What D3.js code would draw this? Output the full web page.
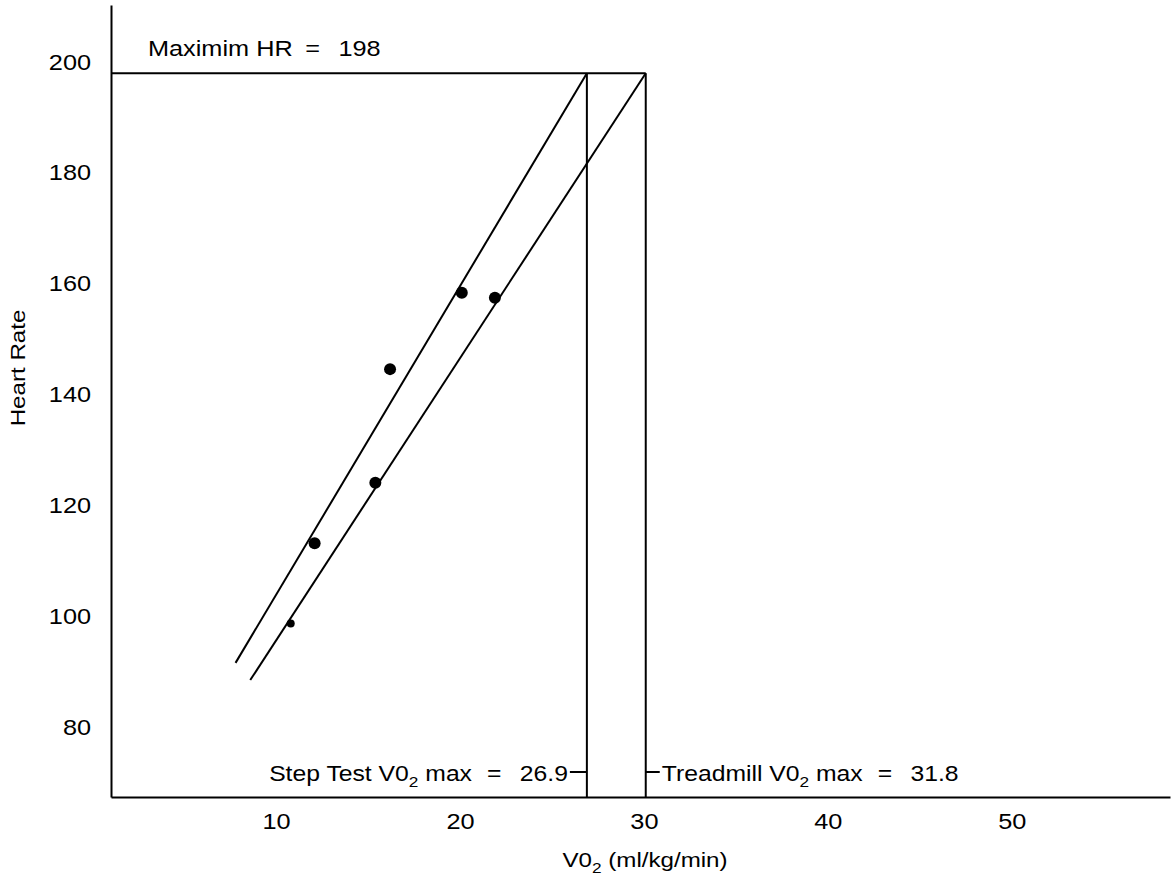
<!DOCTYPE html>
<html>
<head>
<meta charset="utf-8">
<script src="https://cdn.jsdelivr.net/npm/d3@7"></script>
<style>
  body { margin: 0; background: #fff; }
  svg text { font-family: "Liberation Sans", Arial, sans-serif; fill: #000; }
</style>
</head>
<body>
<svg id="chart" width="1174" height="886"></svg>
<script>
// measured points (V02, heart rate)
var vo2 = [10.8, 12.1, 15.4, 16.2, 20.1, 21.9];
var heartRate = [98.7, 113.2, 124.1, 144.6, 158.4, 157.5];
var dotSize = [4, 6, 6, 6, 6, 6];

// fitted lines, start and end points
var stepLine = [[7.8, 91.6], [26.9, 198]];
var treadLine = [[8.6, 88.5], [30.1, 198]];

var maxHR = 198;
var stepMax = 26.9;      // where the step test line hits max HR
var treadMaxAt = 30.1;   // where the treadmill line is drawn
var treadMaxLabel = "31.8";

var xTicks = [10, 20, 30, 40, 50];
var yTicks = [80, 100, 120, 140, 160, 180, 200];

var STRETCH = 1.15;  // the type in the original is wider than Arial

var svg = d3.select("#chart");

var x = d3.scaleLinear().domain([1.03, 58.6]).range([111, 1170]);
var y = d3.scaleLinear().domain([67.4, 210.3]).range([797, 5]);

// axes
var xAxis = svg.append("g")
    .attr("transform", "translate(0," + y(67.4) + ")")
    .call(d3.axisBottom(x).tickValues(xTicks).tickSize(0).tickSizeOuter(0).tickPadding(16));
var yAxis = svg.append("g")
    .attr("transform", "translate(" + x(1.03) + ",0)")
    .call(d3.axisLeft(y).tickValues(yTicks).tickSize(0).tickSizeOuter(0).tickPadding(20 / STRETCH));

[xAxis, yAxis].forEach(function (g) {
    g.select(".domain").attr("stroke", "#000").attr("stroke-width", 2);
    g.selectAll("text")
        .style("font-size", "22px")
        .attr("fill", "#000")
        .attr("transform", "scale(" + STRETCH + ",1)");
});

// max HR line and vertical drops
svg.append("line")
    .attr("x1", x(1.03)).attr("x2", x(treadMaxAt))
    .attr("y1", y(maxHR)).attr("y2", y(maxHR))
    .attr("stroke", "#000").attr("stroke-width", 2);

[stepMax, treadMaxAt].forEach(function (v) {
    svg.append("line")
        .attr("x1", x(v)).attr("x2", x(v))
        .attr("y1", y(maxHR)).attr("y2", y(67.4))
        .attr("stroke", "#000").attr("stroke-width", 2);
});

// regression lines
var line = d3.line().x(d => x(d[0])).y(d => y(d[1]));
[stepLine, treadLine].forEach(function (l) {
    svg.append("path")
        .attr("d", line(l))
        .attr("fill", "none")
        .attr("stroke", "#000")
        .attr("stroke-width", 2);
});

// dots
svg.selectAll("circle")
    .data(vo2)
    .enter().append("circle")
    .attr("cx", (d, i) => x(d))
    .attr("cy", (d, i) => y(heartRate[i]))
    .attr("r", (d, i) => dotSize[i])
    .attr("fill", "#000");

// text helper: stretched horizontally around its anchor
function label(px, py, size, anchor, rotate) {
    var tf = "translate(" + px + "," + py + ")" + (rotate ? " rotate(" + rotate + ")" : "") +
        " scale(" + STRETCH + ",1)";
    return svg.append("g").attr("transform", tf)
        .append("text")
        .attr("text-anchor", anchor || "start")
        .style("font-size", size + "px");
}
function voText(sel) {
    sel.append("tspan").text("V0");
    sel.append("tspan").attr("dy", 6).style("font-size", "15px").text("2");
    return sel.append("tspan").attr("dy", -6);
}
function equals(sel, value, gap1, gap2) {
    sel.append("tspan").attr("dx", gap1).text("=");
    sel.append("tspan").attr("dx", gap2).text(value);
}

var hr = label(148, 56, 22);
hr.append("tspan").text("Maximim HR");
equals(hr, maxHR, 11, 16);

var labelY = 781;
var stepText = label(x(stepMax) - 19, labelY, 21.5, "end");
stepText.append("tspan").text("Step Test ");
voText(stepText).text(" max");
equals(stepText, stepMax, 13, 16);

var treadText = label(x(treadMaxAt) + 16, labelY, 21.5);
treadText.append("tspan").text("Treadmill ");
voText(treadText).text(" max");
equals(treadText, treadMaxLabel, 13, 16);

// little connector dashes
svg.append("line")
    .attr("x1", x(stepMax) - 17).attr("x2", x(stepMax))
    .attr("y1", labelY - 9).attr("y2", labelY - 9)
    .attr("stroke", "#000").attr("stroke-width", 2);
svg.append("line")
    .attr("x1", x(treadMaxAt)).attr("x2", x(treadMaxAt) + 14)
    .attr("y1", labelY - 9).attr("y2", labelY - 9)
    .attr("stroke", "#000").attr("stroke-width", 2);

// axis titles
var xTitle = label(645, 867, 21, "middle");
voText(xTitle).text(" (ml/kg/min)");

label(25, 368, 21, "middle", -90).text("Heart Rate");
</script>
</body>
</html>
